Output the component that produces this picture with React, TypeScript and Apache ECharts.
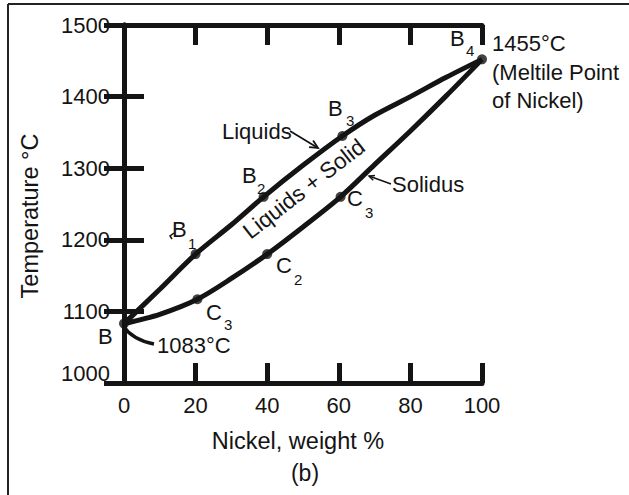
import { useEffect, useRef } from 'react';
import * as echarts from 'echarts';

// ---- data ----
const xMin = 0;
const xMax = 100;
const yMin = 1000;
const yMax = 1500;
const liquidusNi = [0, 10, 20, 30, 39, 50, 61, 70, 80, 90, 100];
const liquidusT = [1083, 1131, 1180, 1221, 1260, 1304, 1345, 1374, 1400, 1427, 1452];
const solidusNi = [0, 10, 20.5, 30, 40, 50, 60.5, 70, 80, 90, 100];
const solidusT = [1083, 1096, 1117, 1146, 1180, 1218, 1260, 1305, 1352, 1401, 1452];
const markedNi = [0, 20, 39, 61, 100, 20.5, 40, 60.5];
const markedT = [1083, 1180, 1260, 1345, 1452, 1117, 1180, 1260];

const FONT = '"Liberation Sans", Arial, Helvetica, sans-serif';
const INK = '#141414';

function arrowHead(x1: number, y1: number, x2: number, y2: number, len: number, w: number) {
  const dx = x2 - x1;
  const dy = y2 - y1;
  const d = Math.sqrt(dx * dx + dy * dy);
  const ux = dx / d;
  const uy = dy / d;
  const a = 0.45;
  const c = Math.cos(a);
  const s = Math.sin(a);
  const bx = -ux;
  const by = -uy;
  const p1 = [x2 + len * (bx * c - by * s), y2 + len * (bx * s + by * c)];
  const p2 = [x2 + len * (bx * c + by * s), y2 + len * (-bx * s + by * c)];
  return {
    type: 'polyline',
    shape: { points: [p1, [x2, y2], p2] },
    style: { stroke: INK, lineWidth: w, fill: 'none' },
    z: 100,
  };
}

function txt(text: string, x: number, y: number, size = 22, align = 'left', rotation = 0) {
  return {
    type: 'text',
    x,
    y,
    rotation,
    z: 100,
    style: {
      text,
      font: `${size}px ${FONT}`,
      fill: INK,
      align,
      verticalAlign: 'middle',
    },
  };
}

function labelWithSub(main: string, sub: string, x: number, y: number, sx: number, sy: number) {
  return [txt(main, x, y, 22), txt(sub, sx, sy, 15)];
}

export default function App() {
  const ref = useRef<HTMLDivElement>(null);

  useEffect(() => {
    if (!ref.current) return;
    const chart = echarts.init(ref.current, undefined, { renderer: 'svg' });

    const axisLine = { show: true, lineStyle: { color: INK, width: 5, cap: 'round' } };
    const axisTick = { show: true, inside: true, length: 20, lineStyle: { color: INK, width: 5 } };

    const liquidus = liquidusNi.map((v, i) => [v, liquidusT[i]]);
    const solidus = solidusNi.map((v, i) => [v, solidusT[i]]);
    const marked = markedNi.map((v, i) => [v, markedT[i]]);

    const graphic: any[] = [
      // outer frame (top and left)
      { type: 'line', shape: { x1: 8, y1: 4, x2: 629, y2: 4 }, style: { stroke: '#222', lineWidth: 2 } },
      { type: 'line', shape: { x1: 8, y1: 4, x2: 8, y2: 495 }, style: { stroke: '#222', lineWidth: 2 } },
      // axis names and caption
      txt('Temperature °C', 30, 216, 23.5, 'center', Math.PI / 2),
      txt('Nickel, weight %', 298, 441, 23.5, 'center'),
      txt('(b)', 305, 473, 23, 'center'),
      // point labels
      ...labelWithSub('B', '1', 172, 229, 188, 243),
      ...labelWithSub('B', '2', 242, 175, 257, 188),
      ...labelWithSub('B', '3', 328, 108, 346, 120),
      ...labelWithSub('B', '4', 450, 38, 466, 50),
      ...labelWithSub('C', '3', 347, 198, 365, 212),
      ...labelWithSub('C', '2', 276, 265, 294, 279),
      ...labelWithSub('C', '3', 206, 312, 224, 324),
      txt('B', 98, 336, 22),
      txt('1083°C', 157, 345, 22),
      txt('Liquids', 222, 131, 22),
      txt('Solidus', 392, 184, 22),
      txt('1455°C', 492, 43, 22),
      txt('(Meltile Point', 492, 72, 22),
      txt('of Nickel)', 492, 100, 22),
      txt('Liquids + Solid', 304, 189, 22.5, 'center', 0.66),
      // arrows
      { type: 'line', shape: { x1: 290, y1: 131, x2: 318, y2: 148 }, style: { stroke: INK, lineWidth: 1.8 }, z: 100 },
      arrowHead(290, 131, 318, 148, 9, 1.8),
      { type: 'line', shape: { x1: 391, y1: 184, x2: 369, y2: 176 }, style: { stroke: INK, lineWidth: 1.5 }, z: 100 },
      arrowHead(391, 184, 369, 176, 6, 1.5),
      {
        type: 'bezierCurve',
        shape: { x1: 154, y1: 344, cpx1: 133, cpy1: 340, x2: 123, y2: 326 },
        style: { stroke: INK, lineWidth: 3.5, fill: 'none' },
        z: 100,
      },
      {
        type: 'polyline',
        shape: { points: [[174, 233], [170, 236], [172, 239]] },
        style: { stroke: INK, lineWidth: 1.5, fill: 'none' },
        z: 100,
      },
    ];

    chart.setOption({
      animation: false,
      backgroundColor: '#ffffff',
      grid: { left: 124, top: 25, right: 147, bottom: 112, containLabel: false },
      xAxis: [
        {
          type: 'value',
          position: 'bottom',
          min: xMin,
          max: xMax,
          interval: 20,
          axisLine,
          axisTick,
          splitLine: { show: false },
          axisLabel: { color: INK, fontSize: 22, fontFamily: FONT, margin: 11 },
        },
        {
          type: 'value',
          position: 'top',
          min: xMin,
          max: xMax,
          interval: 20,
          axisLine,
          axisTick,
          splitLine: { show: false },
          axisLabel: { show: false },
        },
      ],
      yAxis: [
        {
          type: 'value',
          position: 'left',
          min: yMin,
          max: yMax,
          interval: 100,
          axisLine,
          axisTick,
          splitLine: { show: false },
          axisLabel: {
            color: INK,
            fontSize: 22,
            fontFamily: FONT,
            margin: 14,
            formatter: (v: number) => (v === yMin ? `{lo|${v}}` : `${v}`),
            rich: { lo: { fontSize: 22, fontFamily: FONT, color: INK, padding: [0, 0, 20, 0] } },
          },
        },
        {
          type: 'value',
          position: 'right',
          min: yMin,
          max: yMax,
          interval: 100,
          axisLine,
          axisTick,
          splitLine: { show: false },
          axisLabel: { show: false },
        },
      ],
      series: [
        {
          name: 'Liquidus',
          type: 'line',
          data: liquidus,
          smooth: 0.3,
          showSymbol: false,
          lineStyle: { color: INK, width: 5 },
        },
        {
          name: 'Solidus',
          type: 'line',
          data: solidus,
          smooth: 0.3,
          showSymbol: false,
          lineStyle: { color: INK, width: 5 },
        },
        {
          name: 'Points',
          type: 'scatter',
          data: marked,
          symbol: 'circle',
          symbolSize: 10,
          itemStyle: { color: INK },
        },
      ],
      graphic,
    });

    return () => chart.dispose();
  }, []);

  return (
    <div
      ref={ref}
      style={{ position: 'fixed', left: 0, top: 0, width: 629, height: 495, background: '#fff' }}
    />
  );
}
